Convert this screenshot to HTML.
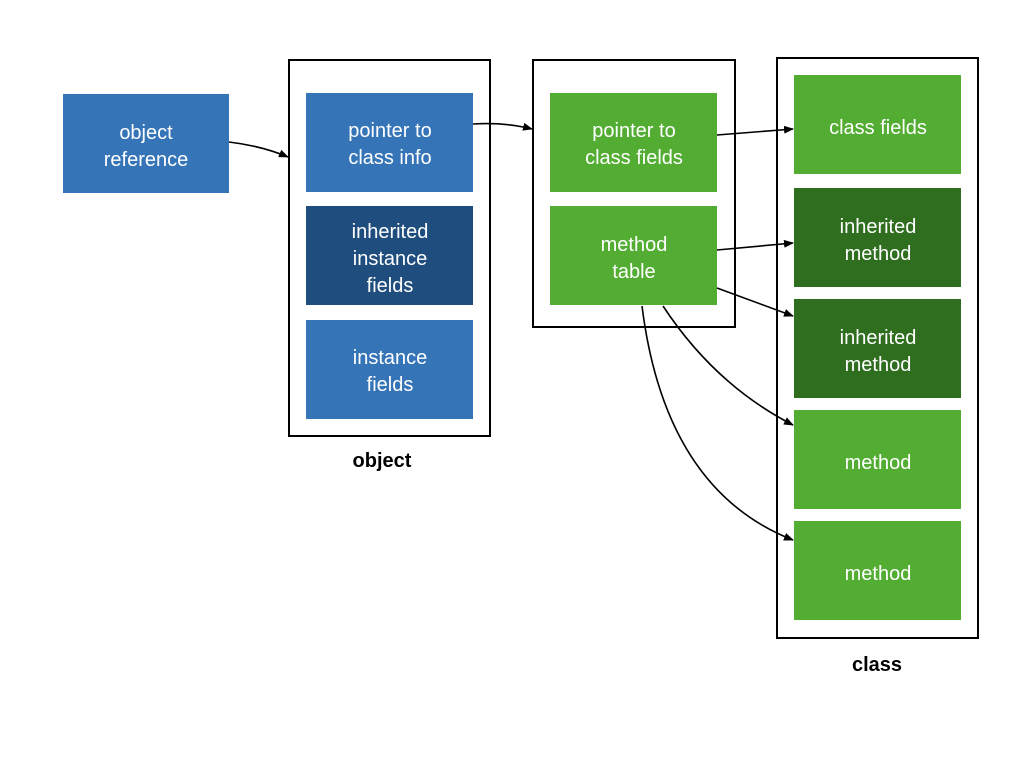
<!DOCTYPE html>
<html><head><meta charset="utf-8"><style>
body{margin:0;width:1024px;height:768px;background:#fff;overflow:hidden;font-family:"Liberation Sans",sans-serif}
</style></head><body>
<svg width="1024" height="768" xmlns="http://www.w3.org/2000/svg" font-family="Liberation Sans, sans-serif">
<defs><marker id="a" markerWidth="10" markerHeight="8" refX="9" refY="4" orient="auto" markerUnits="userSpaceOnUse"><path d="M0,0 L10,4 L0,8 z" fill="#000"/></marker></defs>
<g fill="none" stroke="#000" stroke-width="2">
<rect x="289" y="60" width="201" height="376"/>
<rect x="533" y="60" width="202" height="267"/>
<rect x="777" y="58" width="201" height="580"/>
</g>
<g font-size="20" fill="#fff" text-anchor="middle">
<rect x="63" y="94" width="166" height="99" fill="#3474B7"/>
<text x="146" y="139">object</text><text x="146" y="166">reference</text>
<rect x="306" y="93" width="167" height="99" fill="#3474B7"/>
<text x="390" y="137">pointer to</text><text x="390" y="164">class info</text>
<rect x="306" y="206" width="167" height="99" fill="#1F4E7E"/>
<text x="390" y="238">inherited</text><text x="390" y="265">instance</text><text x="390" y="292">fields</text>
<rect x="306" y="320" width="167" height="99" fill="#3474B7"/>
<text x="390" y="364">instance</text><text x="390" y="391">fields</text>
<rect x="550" y="93" width="167" height="99" fill="#53AD33"/>
<text x="634" y="137">pointer to</text><text x="634" y="164">class fields</text>
<rect x="550" y="206" width="167" height="99" fill="#53AD33"/>
<text x="634" y="251">method</text><text x="634" y="278">table</text>
<rect x="794" y="75" width="167" height="99" fill="#53AD33"/>
<text x="878" y="134">class fields</text>
<rect x="794" y="188" width="167" height="99" fill="#2F6E1F"/>
<text x="878" y="233">inherited</text><text x="878" y="260">method</text>
<rect x="794" y="299" width="167" height="99" fill="#2F6E1F"/>
<text x="878" y="344">inherited</text><text x="878" y="371">method</text>
<rect x="794" y="410" width="167" height="99" fill="#53AD33"/>
<text x="878" y="469">method</text>
<rect x="794" y="521" width="167" height="99" fill="#53AD33"/>
<text x="878" y="580">method</text>
</g>
<g font-size="20" font-weight="bold" text-anchor="middle" fill="#000">
<text x="382" y="467">object</text><text x="877" y="671">class</text>
</g>
<g fill="none" stroke="#000" stroke-width="1.6" marker-end="url(#a)">
<path d="M229,142 Q262,146 288,157"/>
<path d="M473,124 Q505,122 532,129"/>
<path d="M717,135 L793,129"/>
<path d="M717,250 L793,243"/>
<path d="M717,288 L793,316"/>
<path d="M663,306 Q715,385 793,425"/>
<path d="M642,306 Q665,490 793,540"/>
</g>
</svg>
</body></html>
